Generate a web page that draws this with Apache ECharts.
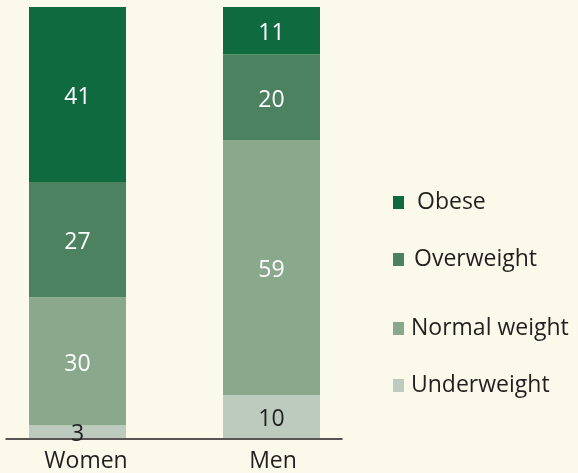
<!DOCTYPE html>
<html><head><meta charset="utf-8">
<script src="https://cdn.jsdelivr.net/npm/echarts@6/dist/echarts.min.js"></script>
<style>html,body{margin:0;padding:0;background:#fbf9ea;}#c{width:578px;height:473px;}</style>
</head><body><div id="c"></div>
<script>
const categories = ['Women', 'Men'];
const underweight = [3, 10];
const normalWeight = [30, 59];
const overweight = [27, 20];
const obese = [41, 11];
const seriesNames = ['Underweight', 'Normal weight', 'Overweight', 'Obese'];
const seriesColors = ['#bccbbe', '#89a88c', '#4d8260', '#0f6a40'];
const labelColors = ['#231f20', '#ffffff', '#ffffff', '#ffffff'];

const allSeries = [underweight, normalWeight, overweight, obese];
const totals = categories.map((c, i) => allSeries.reduce((s, a) => s + a[i], 0));
const FONT = '"Open Sans", sans-serif';

const chart = echarts.init(document.getElementById('c'), null, {renderer: 'canvas'});
const series = allSeries.map((arr, k) => ({
  name: seriesNames[k],
  type: 'bar',
  stack: 'total',
  xAxisIndex: 0, yAxisIndex: 0,
  barWidth: 97,
  barGap: '-59.8%',
  itemStyle: {color: seriesColors[k]},
  label: {
    show: true, position: 'inside', offset: [0, 3],
    color: labelColors[k], fontSize: 23, fontFamily: FONT,
    formatter: p => arr[p.dataIndex]
  },
  data: arr.map((v, i) => v / totals[i] * 100)
}));
// empty spacer stack that shifts the real bars within each category slot
series.push({
  name: 'spacer', type: 'bar', stack: 'spacer',
  xAxisIndex: 0, yAxisIndex: 0, barWidth: 97, barGap: '-59.8%',
  silent: true, data: categories.map(() => null)
});

const legendTops = [191, 248, 317, 374];
const legendPads = [8, 5, 2, 2];
const legends = [3, 2, 1, 0].map((k, j) => ({
  data: [seriesNames[k]],
  left: 393, top: legendTops[j], padding: 0,
  orient: 'vertical',
  icon: 'rect', itemWidth: 11, itemHeight: 13,
  selectedMode: false,
  textStyle: {fontSize: 23, fontFamily: FONT, color: '#231f20', padding: [0, 0, 0, legendPads[j]]}
}));

chart.setOption({
  backgroundColor: '#fbf9ea',
  animation: false,
  legend: legends,
  grid: [
    {left: 0, width: 388, top: 7, bottom: 35},
    {left: 6, width: 336, top: 7, bottom: 34}
  ],
  xAxis: [
    {type: 'category', gridIndex: 0, data: categories,
     axisLine: {show: false}, axisTick: {show: false},
     axisLabel: {
       fontSize: 23, fontFamily: FONT, color: '#231f20', margin: 12,
       formatter: (v, i) => '{c' + i + '|' + v + '}',
       rich: {
         c0: {fontSize: 23, fontFamily: FONT, color: '#231f20', padding: [0, 22, 0, 0]},
         c1: {fontSize: 23, fontFamily: FONT, color: '#231f20', padding: [0, 36, 0, 0]}
       }
     }},
    {type: 'value', gridIndex: 1, min: 0, max: 1,
     axisLine: {show: true, lineStyle: {color: '#231f20', width: 1.5}},
     axisTick: {show: false}, axisLabel: {show: false}, splitLine: {show: false}}
  ],
  yAxis: [
    {type: 'value', gridIndex: 0, min: 0, max: 100, show: false},
    {type: 'value', gridIndex: 1, min: 0, max: 1, show: false}
  ],
  series: series
});
</script></body></html>
